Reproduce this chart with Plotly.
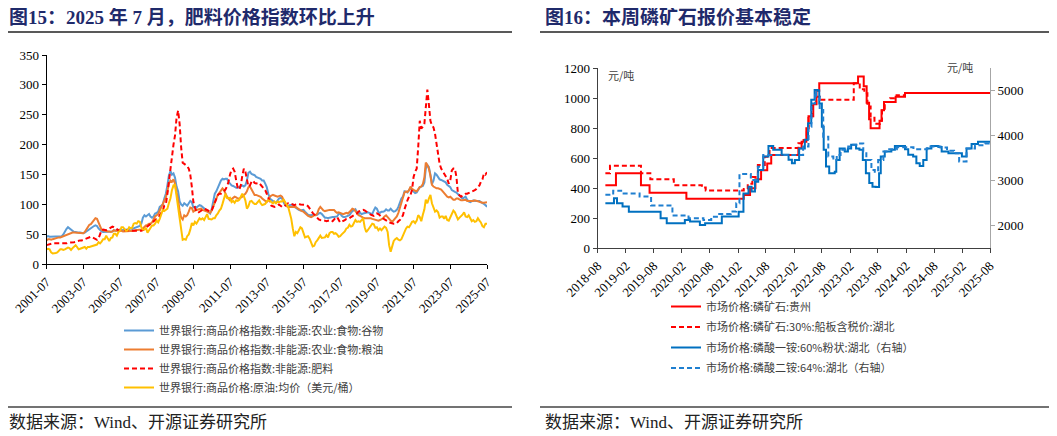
import pandas as pd
import plotly.graph_objects as go

PAGE_W, PAGE_H = 1057, 436
BODY = 8  # default page margin of the html body
W, H = PAGE_W - BODY, PAGE_H - BODY

# ---------------- Left chart data (monthly, 2001-07 .. 2025-07) ----------------
left_start, left_end = "2001-07-01", "2025-07-01"
left_dates = pd.date_range(left_start, left_end, freq="MS")

grains = [
    46, 47, 46, 46, 47, 47,
    47, 46, 46, 47, 47, 50, 55, 59, 62, 60, 57, 55,
    54, 54, 53, 53, 53, 52, 52, 53, 55, 57, 58, 60,
    62, 64, 65, 64, 60, 57, 55, 54, 54, 54, 54, 55,
    55, 55, 57, 56, 56, 57, 58, 57, 57, 57, 58, 58,
    59, 60, 59, 60, 62, 62, 63, 64, 68, 78, 82, 80,
    82, 84, 80, 78, 80, 85, 86, 88, 96, 98, 100, 110,
    118, 132, 148, 156, 150, 152, 145, 130, 122, 105, 100, 98,
    102, 100, 98, 102, 106, 104, 95, 96, 95, 97, 99, 98,
    96, 93, 92, 90, 88, 85, 92, 108, 118, 122, 128, 135,
    140, 143, 142, 143, 143, 138, 135, 132, 131, 129, 128, 128,
    130, 131, 132, 130, 132, 140, 153, 155, 151, 150, 149, 146,
    145, 144, 143, 140, 140, 135, 129, 118, 110, 108, 105, 104,
    103, 106, 110, 111, 110, 104, 99, 98, 97, 99, 99, 100,
    96, 94, 92, 91, 90, 91, 91, 88, 85, 83, 82, 82,
    82, 82, 82, 83, 85, 86, 84, 80, 78, 78, 77, 78,
    79, 79, 79, 79, 80, 84, 85, 81, 79, 79, 80, 80,
    82, 86, 89, 90, 92, 87, 84, 86, 84, 85, 86, 86,
    87, 86, 85, 84, 90, 95, 93, 87, 86, 88, 88, 89,
    92, 90, 90, 93, 90, 88, 89, 91, 96, 104, 110, 113,
    122, 121, 120, 124, 127, 124, 121, 119, 120, 124, 129, 130,
    131, 137, 160, 166, 163, 150, 134, 140, 152, 150, 145, 142,
    141, 140, 138, 137, 133, 131, 129, 124, 122, 121, 120, 117,
    114, 112, 110, 111, 113, 108, 105, 104, 106, 107, 106, 106,
    107, 106, 104, 103, 101, 99, 96,
]

oils_meals = [
    40, 42, 42, 41, 42, 43,
    44, 44, 45, 45, 46, 47, 49, 50, 51, 51, 52, 53,
    53, 53, 52, 53, 53, 52, 52, 54, 58, 64, 66, 67,
    70, 74, 77, 76, 70, 62, 58, 57, 56, 55, 55, 55,
    54, 55, 57, 56, 56, 57, 57, 56, 55, 55, 55, 55,
    56, 56, 55, 56, 57, 57, 58, 58, 58, 60, 63, 65,
    66, 68, 68, 70, 75, 80, 82, 84, 90, 95, 100, 105,
    112, 122, 135, 140, 138, 142, 135, 120, 108, 90, 78, 75,
    82, 80, 82, 88, 95, 94, 88, 90, 91, 92, 93, 93,
    91, 90, 89, 88, 87, 86, 90, 98, 104, 110, 116, 120,
    125, 127, 124, 118, 113, 110, 107, 109, 111, 113, 112, 110,
    110, 111, 113, 116, 118, 122, 129, 130, 126, 120, 116, 116,
    115, 114, 113, 110, 108, 106, 104, 108, 113, 115, 116, 115,
    114, 113, 114, 115, 113, 108, 102, 97, 96, 96, 96, 96,
    96, 96, 94, 92, 90, 89, 88, 85, 83, 81, 80, 79,
    80, 82, 82, 85, 92, 96, 93, 90, 89, 90, 91, 91,
    91, 91, 91, 88, 86, 87, 86, 85, 84, 85, 86, 85,
    87, 90, 93, 92, 89, 85, 82, 81, 79, 78, 77, 77,
    78, 78, 77, 76, 75, 75, 74, 73, 74, 75, 77, 80,
    82, 79, 75, 73, 71, 74, 77, 80, 86, 95, 105, 112,
    120, 122, 121, 124, 130, 126, 124, 123, 122, 126, 129, 130,
    134, 145, 170, 166, 160, 148, 133, 130, 128, 127, 127, 126,
    125, 122, 118, 116, 113, 112, 113, 110, 108, 108, 110, 110,
    108, 107, 107, 108, 108, 106, 106, 105, 105, 106, 107, 106,
    105, 104, 104, 103, 103, 103, 104,
]

fertilizers = [
    32, 33, 34, 35, 35, 35,
    35, 34, 35, 35, 35, 35, 35, 35, 36, 36, 36, 36,
    37, 38, 39, 40, 40, 40, 41, 42, 43, 44, 45, 46,
    45, 44, 42, 41, 43, 50, 57, 58, 57, 57, 58, 60,
    62, 63, 62, 60, 58, 57, 57, 57, 58, 58, 58, 57,
    57, 57, 56, 56, 56, 55, 55, 55, 56, 57, 59, 62,
    64, 66, 68, 70, 72, 74, 76, 78, 82, 86, 90, 98,
    100, 118, 140, 162, 185, 200, 215, 245, 257, 235, 195, 170,
    168, 166, 164, 160, 150, 130, 105, 95, 88, 86, 88, 90,
    92, 93, 92, 91, 90, 88, 90, 96, 103, 110, 116, 118,
    118, 120, 122, 125, 130, 138, 150, 158, 160, 155, 140, 128,
    125, 132, 148, 160, 155, 140, 130, 132, 138, 140, 136, 135,
    136, 136, 133, 130, 128, 124, 118, 110, 103, 98, 97, 96,
    97, 99, 100, 98, 96, 96, 98, 100, 102, 102, 101, 99,
    99, 100, 101, 101, 100, 100, 100, 100, 99, 97, 94, 90,
    86, 83, 80, 77, 75, 74, 74, 73, 73, 72, 73, 74,
    74, 72, 75, 78, 79, 75, 70, 71, 72, 74, 76, 76,
    77, 79, 80, 82, 84, 85, 88, 89, 90, 91, 90, 88,
    86, 85, 83, 82, 81, 83, 85, 84, 81, 79, 77, 75,
    74, 72, 70, 69, 68, 68, 68, 69, 72, 74, 78, 82,
    92, 102, 107, 113, 116, 125, 146, 155, 160, 196, 240, 227,
    230, 235, 268, 292, 268, 240, 232, 229, 218, 200, 179, 168,
    160, 155, 152, 148, 143, 135, 140, 157, 160, 160, 146, 118,
    116, 113, 115, 117, 118, 118, 119, 120, 121, 122, 124, 126,
    129, 132, 138, 142, 152, 150, 154,
]

crude_oil = [
    25, 26, 25, 20, 18, 18,
    19, 20, 23, 25, 25, 24, 25, 26, 28, 27, 24, 27,
    30, 32, 29, 25, 26, 27, 28, 29, 26, 29, 29, 30,
    31, 31, 33, 33, 37, 35, 38, 42, 42, 48, 43, 39,
    44, 45, 51, 51, 48, 54, 56, 62, 62, 59, 56, 57,
    62, 60, 61, 68, 69, 68, 72, 71, 62, 58, 58, 61,
    53, 57, 60, 65, 65, 68, 73, 70, 76, 82, 91, 89,
    91, 93, 102, 110, 124, 132, 133, 114, 99, 72, 53, 41,
    42, 41, 47, 50, 58, 69, 65, 71, 68, 74, 77, 75,
    77, 74, 79, 84, 76, 75, 75, 77, 77, 82, 85, 90,
    93, 101, 111, 118, 111, 110, 111, 104, 106, 103, 107, 106,
    108, 114, 118, 114, 107, 93, 97, 105, 106, 103, 101, 101,
    105, 107, 102, 99, 100, 101, 105, 107, 106, 104, 102, 105,
    102, 105, 104, 105, 105, 108, 105, 100, 96, 86, 76, 60,
    47, 54, 52, 57, 62, 60, 54, 45, 46, 47, 43, 36,
    30, 31, 37, 40, 45, 48, 44, 44, 45, 49, 45, 52,
    54, 54, 51, 52, 50, 46, 47, 50, 53, 55, 60, 61,
    66, 63, 64, 68, 74, 71, 72, 71, 75, 77, 62, 54,
    57, 61, 63, 68, 67, 61, 62, 57, 60, 57, 60, 63,
    61, 54, 32, 21, 30, 39, 42, 44, 41, 40, 42, 49,
    54, 60, 63, 62, 66, 71, 72, 69, 73, 82, 79, 72,
    83, 92, 108, 102, 110, 116, 102, 95, 88, 90, 87, 78,
    80, 80, 76, 81, 74, 73, 78, 83, 90, 87, 80, 75,
    78, 80, 83, 87, 80, 79, 82, 77, 72, 74, 71, 72,
    77, 73, 70, 64, 62, 68, 68,
]

left_names = [
    "世界银行:商品价格指数:非能源:农业:食物:谷物",
    "世界银行:商品价格指数:非能源:农业:食物:粮油",
    "世界银行:商品价格指数:非能源:肥料",
    "世界银行:商品价格:原油:均价（美元/桶）",
]

# ---------------- Right chart data (change points, step lines) ----------------
gz_dates = ["2018-09-20", "2018-11-28", "2019-05-10", "2019-07-05", "2020-03-01",
            "2021-03-10", "2021-04-20", "2021-05-25", "2021-07-01", "2021-08-10",
            "2021-09-05", "2022-03-01", "2022-03-22", "2022-04-22", "2022-05-06",
            "2022-06-06", "2022-06-27", "2022-07-15", "2023-03-25", "2023-05-01",
            "2023-05-20", "2023-06-05", "2023-06-15", "2023-08-12", "2023-08-25",
            "2023-09-10", "2023-11-25", "2024-01-25", "2025-08-28"]
gz_vals = [420, 500, 420, 370, 330,
           355, 400, 460, 520, 565,
           622, 667, 711, 800, 880,
           960, 1050, 1100, 1145, 1080,
           970, 860, 800, 850, 920,
           975, 1010, 1035, 1035]

hb_dates = ["2018-09-20", "2018-10-20", "2019-05-10", "2019-07-10", "2019-12-10",
            "2020-06-10", "2020-07-05", "2021-03-10", "2021-04-05", "2021-05-05",
            "2021-06-10", "2021-07-25", "2021-08-25", "2022-03-01", "2022-03-25",
            "2022-04-25", "2022-05-06", "2022-06-01", "2022-06-25", "2022-07-18",
            "2023-02-25", "2023-04-05", "2023-05-05", "2023-05-25", "2023-06-15",
            "2023-07-10", "2023-08-15", "2023-08-28", "2023-09-15", "2023-10-20",
            "2023-12-01", "2024-01-25", "2025-08-28"]
hb_vals = [500, 550, 500, 460, 420,
           405, 385, 395, 430, 475,
           555, 610, 668, 700, 722,
           800, 880, 965, 1010, 990,
           1100, 1060, 1033, 945, 870,
           830, 850, 930, 975, 1000,
           1020, 1035, 1035]

map_dates = ["2018-09-20", "2018-11-15", "2018-12-05", "2019-01-10", "2019-02-20",
             "2019-09-15", "2019-10-25", "2020-02-20", "2020-03-25", "2020-05-28",
             "2020-07-01", "2020-10-18", "2021-02-05", "2021-03-08", "2021-04-10",
             "2021-04-30", "2021-05-22", "2021-06-12", "2021-07-15", "2021-08-18",
             "2021-09-18", "2021-11-12", "2021-12-27", "2022-01-18", "2022-02-06",
             "2022-03-06", "2022-04-12", "2022-05-03", "2022-05-24", "2022-06-15",
             "2022-07-06", "2022-07-15", "2022-08-01", "2022-08-13", "2022-08-28",
             "2022-09-18", "2022-10-24", "2022-11-03", "2022-11-25", "2022-12-28",
             "2023-01-18", "2023-02-08", "2023-03-12", "2023-04-03", "2023-04-25",
             "2023-05-15", "2023-06-06", "2023-06-27", "2023-07-18", "2023-08-09",
             "2023-08-20", "2023-09-15", "2023-10-28", "2023-11-20", "2024-01-25",
             "2024-02-15", "2024-03-18", "2024-04-08", "2024-04-30", "2024-05-23",
             "2024-06-14", "2024-07-15", "2024-08-30", "2024-09-20", "2024-11-03",
             "2025-01-30", "2025-03-01", "2025-04-03", "2025-05-15", "2025-08-28"]
map_vals = [2500, 2610, 2500, 2430, 2315,
            2170, 2055, 2130, 2093, 2019,
            2055, 2204, 2315, 2720, 2870,
            2760, 2980, 3240, 3540, 3775,
            3690, 3580, 3470, 3390, 3460,
            3720, 3910, 4280, 4800, 5020,
            5005, 4720, 4200, 3690, 3320,
            3170, 3200, 3460, 3720, 3650,
            3720, 3800, 3720, 3690, 3460,
            3170, 2950, 2870, 2860, 3170,
            3540, 3650, 3690, 3775, 3700,
            3580, 3540, 3390, 3330, 3460,
            3720, 3775, 3750, 3650, 3610,
            3540, 3720, 3820, 3870, 3870]

dap_dates = ["2018-09-20", "2018-11-10", "2019-01-01", "2019-05-01", "2019-07-15",
             "2019-12-01", "2020-03-15", "2020-06-20", "2020-08-10", "2020-10-01",
             "2020-12-15", "2021-01-20", "2021-02-10", "2021-04-25", "2021-06-10",
             "2021-07-15", "2022-04-01", "2022-05-06", "2022-05-25", "2022-06-18",
             "2022-06-25", "2022-07-18", "2022-08-10", "2022-09-12", "2022-10-15",
             "2022-11-06", "2022-12-01", "2023-01-20", "2023-02-22", "2023-03-25",
             "2023-04-28", "2023-05-18", "2023-06-20", "2023-07-12", "2023-08-03",
             "2023-09-06", "2023-10-06", "2023-12-03", "2024-03-20", "2024-06-18",
             "2024-09-12", "2024-10-25", "2024-12-10", "2025-01-12", "2025-03-01",
             "2025-04-25", "2025-06-28", "2025-08-28"]
dap_vals = [2690, 2780, 2720, 2650, 2450,
            2230, 2170, 2130, 2200, 2260,
            2320, 2500, 3150, 3020, 3315,
            3575, 3760, 4200, 4720, 4980,
            4870, 4575, 3980, 3540, 3460,
            3575, 3690, 3760, 3800, 3830,
            3650, 3460, 3240, 3200, 3460,
            3650, 3700, 3745, 3700, 3760,
            3740, 3670, 3610, 3430, 3720,
            3790, 3830, 3830]

right_names = [
    "市场价格:磷矿石:贵州",
    "市场价格:磷矿石:30%:船板含税价:湖北",
    "市场价格:磷酸一铵:60%粉状:湖北（右轴）",
    "市场价格:磷酸二铵:64%:湖北（右轴）",
]

left_ticks = dict(range=[0, 350], dtick=50)
right_ticks = dict(range=[0, 1200], dtick=200)
right2_ticks = dict(range=[1500, 5500], dtick=1000)


# ---------------- helpers (page pixel -> paper fraction) ----------------
def fx(x):
    return (x - BODY) / W


def fy(y):
    return 1 - (y - BODY) / H


SERIF = "Liberation Serif"
CJK = "Liberation Serif, Noto Sans CJK SC"
DASH = "5px,3px"

fig = go.Figure()

left_colors = ["#5B9BD5", "#ED7D31", "#FF0000", "#FFC000"]
left_dash = ["solid", "solid", DASH, "solid"]
for vals, name, col, dsh in zip([grains, oils_meals, fertilizers, crude_oil],
                                left_names, left_colors, left_dash):
    fig.add_trace(go.Scatter(
        x=left_dates, y=vals, name=name, mode="lines",
        line=dict(color=col, width=2, dash=dsh),
        xaxis="x", yaxis="y", legend="legend"))

right_series = [
    (gz_dates, gz_vals, right_names[0], "#FF0000", "solid", "y2"),
    (hb_dates, hb_vals, right_names[1], "#FF0000", DASH, "y2"),
    (map_dates, map_vals, right_names[2], "#0070C0", "solid", "y3"),
    (dap_dates, dap_vals, right_names[3], "#1F7FD0", DASH, "y3"),
]
for i, (d, v, name, col, dsh, ya) in enumerate(right_series):
    fig.add_trace(go.Scatter(
        x=pd.to_datetime(d), y=v, name=name, mode="lines", line_shape="hv",
        line=dict(color=col, width=2, dash=dsh),
        xaxis="x2", yaxis=ya, legend="legend2", legendgroup=f"R{i}"))

tickfont = dict(family=SERIF, size=13, color="#000000")
axis_common = dict(showgrid=False, zeroline=False, showline=True, linewidth=1,
                   ticks="outside", ticklen=4, tickwidth=1, tickfont=tickfont,
                   automargin=False)

legend_font = dict(family="Noto Sans CJK SC", size=11, color="#404040")

fig.update_layout(
    width=W, height=H,
    margin=dict(l=0, r=0, t=0, b=0, autoexpand=False),
    paper_bgcolor="white", plot_bgcolor="white",
    showlegend=True,
    xaxis=dict(domain=[fx(46.5), fx(487)], anchor="y", type="date",
               range=[left_start, left_end], tick0=left_start, dtick="M24",
               tickformat="%Y-%m", tickangle=-45, linecolor="#000000",
               tickcolor="#000000", **axis_common),
    yaxis=dict(domain=[fy(264.3), fy(55)], anchor="x", linecolor="#000000",
               tickcolor="#000000", **left_ticks, **axis_common),
    xaxis2=dict(domain=[fx(597.7), fx(990)], anchor="y2", type="date",
                range=["2018-08-01", "2025-08-01"], tick0="2018-08-01", dtick="M6",
                tickformat="%Y-%m", tickangle=-45, linecolor="#404040",
                tickcolor="#404040", **axis_common),
    yaxis2=dict(domain=[fy(248.3), fy(68.3)], anchor="x2", linecolor="#404040",
                tickcolor="#404040", **right_ticks, **axis_common),
    yaxis3=dict(overlaying="y2", anchor="x2", side="right", linecolor="#A6A6A6",
                tickcolor="#A6A6A6", **right2_ticks, **axis_common),
    legend=dict(x=fx(119), y=fy(316), xanchor="left", yanchor="top",
                bgcolor="rgba(0,0,0,0)", borderwidth=0, tracegroupgap=0,
                font=legend_font),
    legend2=dict(x=fx(666), y=fy(292), xanchor="left", yanchor="top",
                 bgcolor="rgba(0,0,0,0)", borderwidth=0, tracegroupgap=1.5,
                 font=legend_font),
)

title_col = "#1F2A6B"
ann = [
    dict(x=fx(7), y=fy(17), text="<b>图15：2025 年 7 月，肥料价格指数环比上升</b>",
         font=dict(family=CJK, size=19, color=title_col)),
    dict(x=fx(543), y=fy(17), text="<b>图16：本周磷矿石报价基本稳定</b>",
         font=dict(family=CJK, size=19, color=title_col)),
    dict(x=fx(7), y=fy(422), text="数据来源：Wind、开源证券研究所",
         font=dict(family=CJK, size=17, color="#222222")),
    dict(x=fx(543), y=fy(422), text="数据来源：Wind、开源证券研究所",
         font=dict(family=CJK, size=17, color="#222222")),
    dict(x=fx(606), y=fy(75), text="元/吨",
         font=dict(family="Noto Sans CJK SC", size=11, color="#404040")),
    dict(x=fx(945), y=fy(67), text="元/吨",
         font=dict(family="Noto Sans CJK SC", size=11, color="#404040")),
]
for a in ann:
    a.update(xref="paper", yref="paper", xanchor="left", yanchor="middle",
             showarrow=False)
fig.update_layout(annotations=ann)

shapes = []
for x0, x1 in [(5, 512), (540, 1050)]:
    shapes.append(dict(type="line", xref="paper", yref="paper",
                       x0=fx(x0), x1=fx(x1), y0=fy(32), y1=fy(32),
                       line=dict(color="#222222", width=1.5)))
    shapes.append(dict(type="line", xref="paper", yref="paper",
                       x0=fx(x0), x1=fx(x1), y0=fy(407), y1=fy(407),
                       line=dict(color="#444444", width=1.5)))
fig.update_layout(shapes=shapes)

fig.write_html("out.html")
